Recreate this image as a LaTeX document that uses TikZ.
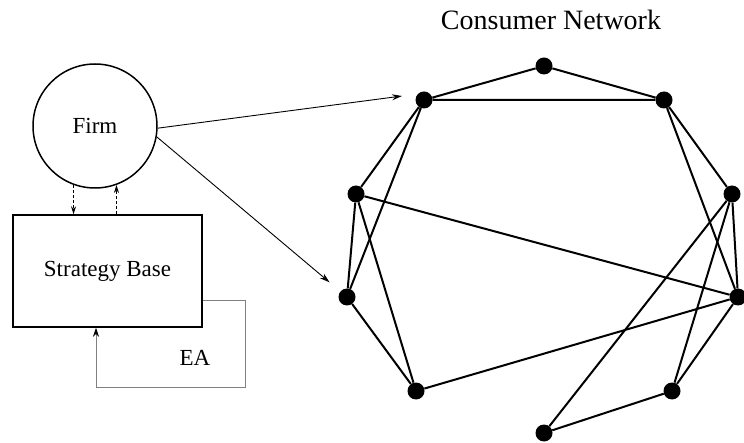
\documentclass[tikz,border=0pt]{standalone}
\usepackage{fontspec}
\setmainfont{Liberation Serif}
\usetikzlibrary{arrows.meta}

\tikzset{
  dot/.style={circle, fill=black, minimum size=17pt, inner sep=0pt},
  link/.style={line width=2pt, black},
  tip/.style={-{Stealth[length=10pt,width=6pt]}},
  label/.style={font=\fontsize{23}{27}\selectfont},
}

\begin{document}
\begin{tikzpicture}[x=1pt, y=-1pt]
\useasboundingbox (0,0) rectangle (744,443);

% firm with its strategy base and the EA loop

\path
(95,126) node[circle, draw, line width=1.5pt, minimum size=124pt, inner sep=0pt, label] (firm) {Firm}
(107.5,271) node[draw, line width=1.5pt, minimum width=189pt, minimum height=112pt, inner sep=0pt, label] (base) {Strategy Base}
(195,358) node[label] (ea) {EA}
(551,20) node[font=\fontsize{28}{33}\selectfont] (title) {Consumer Network};
\draw[-{Stealth[length=8pt,width=5pt]}, densely dashed, line width=0.8pt] (firm.-110) -- (firm.-110 |- base.north);
\draw[-{Stealth[length=8pt,width=5pt]}, densely dashed, line width=0.8pt] (firm.-70 |- base.north) -- (firm.-70);
\draw[-{Stealth[length=9pt,width=6pt,black]}, gray, line width=1pt] (base.east |- 0,301) -| (245,387) -| (base.south -| 96,0);

% consumer network

\path
(544,66) node[dot] (n1) {}
(424,100) node[dot] (n2) {}
(664,100) node[dot] (n3) {}
(356,194) node[dot] (n4) {}
(732,194) node[dot] (n5) {}
(347,297) node[dot] (n6) {}
(738,297) node[dot] (n7) {}
(416,391) node[dot] (n8) {}
(672,391) node[dot] (n9) {}
(544,433) node[dot] (n10) {};
\draw[link] (n1) -- (n2) -- (n3) -- (n1);
\draw[link] (n2) -- (n4) -- (n6) -- (n2);
\draw[link] (n6) -- (n8) -- (n4) -- (n7);
\draw[link] (n3) -- (n5) -- (n7) -- (n3);
\draw[link] (n8) -- (n7) -- (n9) -- (n10) -- (n5) -- (n9);

\coordinate (tipa) at (402,96);
\draw[tip, line width=0.9pt] (firm.-2) -- (tipa);
\draw[tip, line width=0.9pt, shorten >=14pt] (firm.-10) -- (n6);

\end{tikzpicture}
\end{document}
